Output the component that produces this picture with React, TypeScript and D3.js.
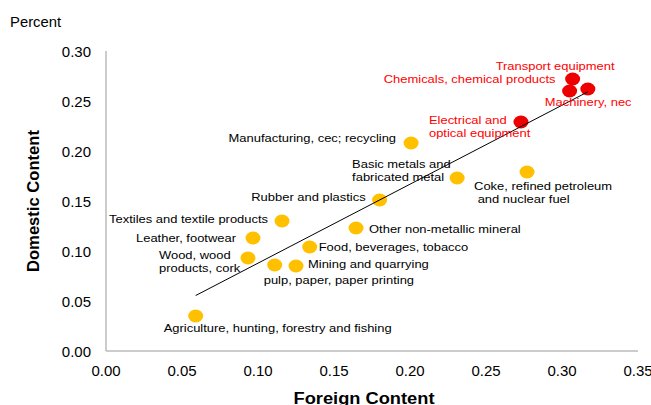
import React from "react";
import * as d3 from "d3";

const sectors = [
  "Transport equipment",
  "Chemicals, chemical products",
  "Machinery, nec",
  "Electrical and|optical equipment",
  "Manufacturing, cec; recycling",
  "Basic metals and|fabricated metal",
  "Coke, refined petroleum| and nuclear fuel",
  "Rubber and plastics",
  "Textiles and textile products",
  "Other non-metallic mineral",
  "Leather, footwear",
  "Food, beverages, tobacco",
  "Wood, wood|products, cork",
  "pulp, paper, paper printing",
  "Mining and quarrying",
  "Agriculture, hunting, forestry and fishing",
];
const foreignContent = [0.307, 0.305, 0.317, 0.273, 0.2007, 0.231, 0.277, 0.18, 0.1158, 0.1645, 0.0967, 0.134, 0.0934, 0.111, 0.125, 0.059];
const domesticContent = [0.272, 0.26, 0.262, 0.229, 0.208, 0.173, 0.179, 0.151, 0.13, 0.123, 0.113, 0.104, 0.093, 0.086, 0.085, 0.035];
const highlighted = [true, true, true, true, false, false, false, false, false, false, false, false, false, false, false, false];
const xTicks = [0, 0.05, 0.1, 0.15, 0.2, 0.25, 0.3, 0.35];
const yTicks = [0, 0.05, 0.1, 0.15, 0.2, 0.25, 0.3];

// label layout: [dx, dy, anchor]
const labelLayout: [number, number, string][] = [
  [-77, -9, "start"],
  [-14, -8, "end"],
  [-43, 17, "start"],
  [-92, 2, "start"],
  [-15, -1, "end"],
  [-105, -10, "start"],
  [-53, 18, "start"],
  [-14, 1, "end"],
  [-14, 2, "end"],
  [13, 5, "start"],
  [-17, 4, "end"],
  [9, 4, "start"],
  [-89, 1, "start"],
  [-11, 19, "start"],
  [12, 2, "start"],
  [-32, 16, "start"],
];

export default function App() {
  const W = 651, H = 405;
  const x = d3.scaleLinear().domain([0, 0.35]).range([106, 638]);
  const y = d3.scaleLinear().domain([0, 0.3]).range([351, 51]);

  const n = foreignContent.length;
  const mx = d3.mean(foreignContent)!;
  const my = d3.mean(domesticContent)!;
  let sxy = 0, sxx = 0;
  for (let i = 0; i < n; i++) {
    sxy += (foreignContent[i] - mx) * (domesticContent[i] - my);
    sxx += (foreignContent[i] - mx) ** 2;
  }
  const b = sxy / sxx;
  const a = my - b * mx;
  const [x0, x1] = d3.extent(foreignContent) as [number, number];
  const trend = d3.line<number>().x((v) => x(v)).y((v) => y(a + b * v))([x0, x1]);

  const font = "Liberation Sans, Arial, sans-serif";
  return (
    <svg width={W} height={H} style={{ position: "absolute", left: 0, top: 0, background: "#fff" }} fontFamily={font}>
      <g transform="translate(10,27) scale(1.06,1)">
        <text x={0} y={0} fontSize={14} fill="#000">Percent</text>
      </g>
      <line x1={x(0)} x2={x(0)} y1={y(0.3)} y2={y(0)} stroke="#999" strokeWidth={1} />
      <line x1={x(0)} x2={x(0.35)} y1={y(0)} y2={y(0)} stroke="#999" strokeWidth={1} />
      {yTicks.map((t) => (
        <text key={"y" + t} x={91} y={y(t) + 5.5} fontSize={15} textAnchor="end" fill="#000">{t.toFixed(2)}</text>
      ))}
      {xTicks.map((t) => (
        <text key={"x" + t} x={x(t)} y={376} fontSize={15} textAnchor="middle" fill="#000">{t.toFixed(2)}</text>
      ))}
      <text transform="translate(39,201) rotate(-90)" textAnchor="middle" fontSize={16} fontWeight="bold" textLength={142} lengthAdjust="spacingAndGlyphs" fontFamily="Liberation Sans Narrow, Arial Narrow, Liberation Sans, sans-serif">Domestic Content</text>
      <text x={364} y={404} textAnchor="middle" fontSize={16} fontWeight="bold" textLength={141} lengthAdjust="spacingAndGlyphs">Foreign Content</text>
      {foreignContent.map((fv, i) => (
        <ellipse key={"p" + i} cx={x(fv)} cy={y(domesticContent[i])} rx={7.5} ry={6.5} fill={highlighted[i] ? "#ee0000" : "#ffc000"} />
      ))}
      <path d={trend!} stroke="#000" strokeWidth={1} fill="none" />
      {sectors.map((s, i) => {
        const [dx, dy, anchor] = labelLayout[i];
        const lines = s.split("|");
        const px = x(foreignContent[i]) + dx;
        const py = y(domesticContent[i]) + dy;
        return (
          <g key={"l" + i} transform={`translate(${px},${py}) scale(1.2,1)`}>
            <text x={0} y={0} fontSize={10.8} textAnchor={anchor as any} fill={highlighted[i] ? "#ff0000" : "#000"} style={{ whiteSpace: "pre" }}>
              {lines.map((ln, j) => (
                <tspan key={j} x={0} y={j * 13.5}>{ln}</tspan>
              ))}
            </text>
          </g>
        );
      })}
    </svg>
  );
}
